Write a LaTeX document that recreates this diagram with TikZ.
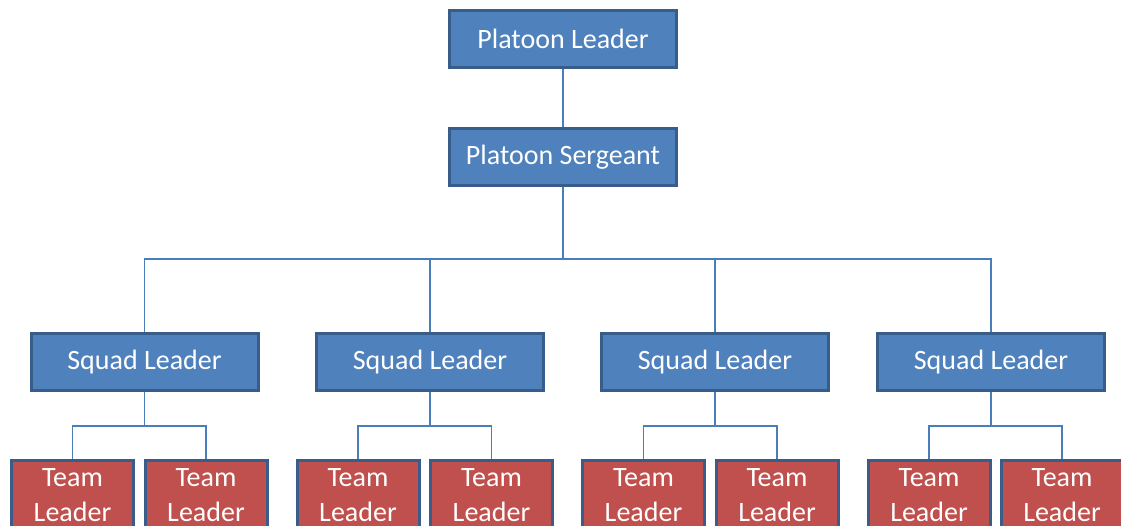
\documentclass[tikz,border=0pt]{standalone}
\usepackage{fontspec}
\setmainfont{Carlito}
\definecolor{boxblue}{HTML}{4F81BD}
\definecolor{boxred}{HTML}{C0504D}
\definecolor{edgeblue}{HTML}{385D8A}
\definecolor{linkblue}{HTML}{4A7EBB}
\begin{document}
\begin{tikzpicture}[x=1pt,y=-1pt,
  bluebox/.style={draw=edgeblue,line width=3pt,fill=boxblue,text=white,
    minimum width=227pt,minimum height=57pt,inner sep=0pt,
    font=\fontsize{28}{34}\selectfont},
  redbox/.style={draw=edgeblue,line width=3pt,fill=boxred,text=white,
    minimum width=122pt,minimum height=70pt,inner sep=0pt,align=center,
    font=\fontsize{28}{35}\selectfont},
  link/.style={draw=linkblue,line width=1.3pt}]
\useasboundingbox (0,0) rectangle (1121,526);
\clip (0,0) rectangle (1121,526);
\node[bluebox] (PL) at (563,39) {Platoon Leader};
\node[bluebox] (PS) at (563,157) {Platoon Sergeant};
\node[bluebox] (SL1) at (144.5,362) {Squad Leader};
\node[bluebox] (SL2) at (430,362) {Squad Leader};
\node[bluebox] (SL3) at (715,362) {Squad Leader};
\node[bluebox] (SL4) at (991,362) {Squad Leader};
\node[redbox] (T1a) at (72.5,495) {Team\\Leader};
\node[redbox] (T1b) at (206,495) {Team\\Leader};
\node[redbox] (T2a) at (358,495) {Team\\Leader};
\node[redbox] (T2b) at (491.5,495) {Team\\Leader};
\node[redbox] (T3a) at (643.5,495) {Team\\Leader};
\node[redbox] (T3b) at (777,495) {Team\\Leader};
\node[redbox] (T4a) at (929,495) {Team\\Leader};
\node[redbox] (T4b) at (1062,495) {Team\\Leader};
\coordinate (bus) at (563,259);
\begin{scope}[on background layer/.try]
\end{scope}
\path[link] (PL.south) -- (PS.north);
\path[link] (PS.south) -- (bus);
\foreach \s in {SL1,SL2,SL3,SL4} {\path[link] (bus) -| (\s.north);}
\foreach \s/\a/\b in {SL1/T1a/T1b,SL2/T2a/T2b,SL3/T3a/T3b,SL4/T4a/T4b} {
  \coordinate (j\s) at ([yshift=-34pt]\s.south);
  \path[link] (\s.south) -- (j\s);
  \path[link] (j\s) -| (\a.north);
  \path[link] (j\s) -| (\b.north);
}
\end{tikzpicture}
\end{document}
